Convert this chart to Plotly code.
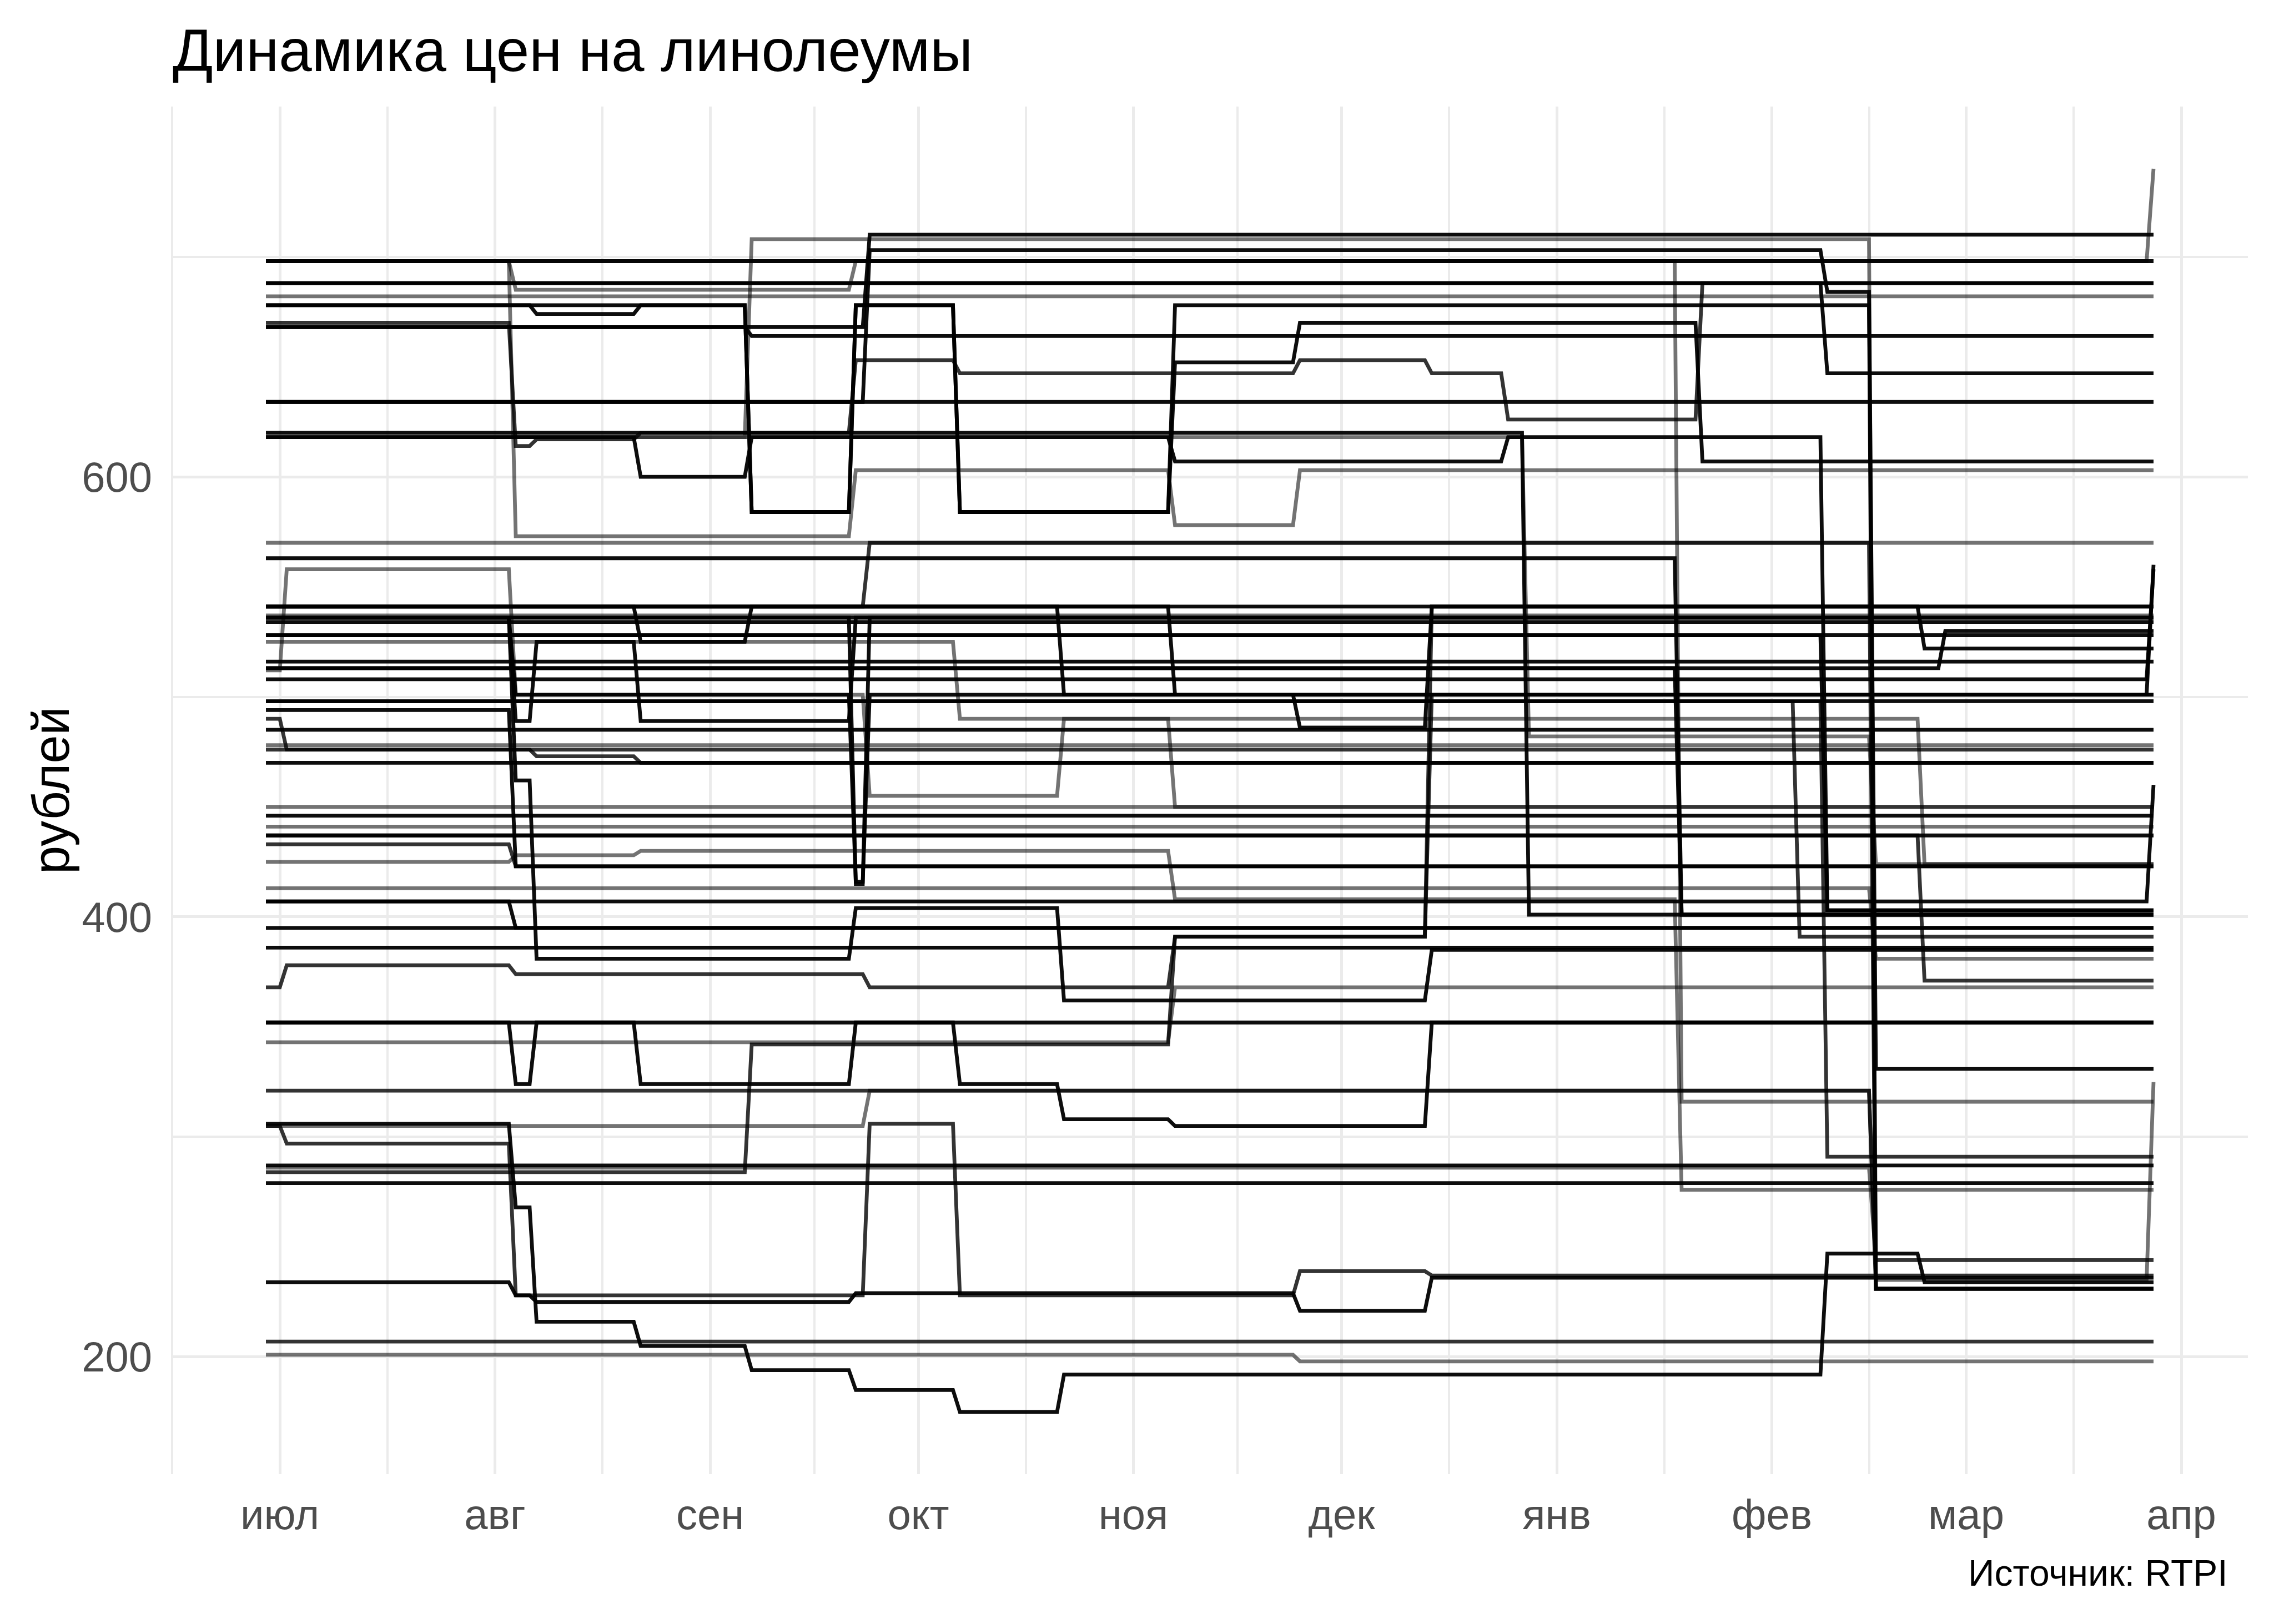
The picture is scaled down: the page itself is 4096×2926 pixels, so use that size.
import pandas as pd
import plotly.graph_objects as go

# ---------------- data ----------------
base_date = "2018-07-01"          # day 0
first_day = -2
last_day = 270

month_ticks = ["2018-07-01", "2018-08-01", "2018-09-01", "2018-10-01", "2018-11-01",
               "2018-12-01", "2019-01-01", "2019-02-01", "2019-03-01", "2019-04-01"]
month_labels = ["июл", "авг", "сен", "окт", "ноя", "дек", "янв", "фев", "мар", "апр"]
y_ticks = [200, 400, 600]
y_minor = [300, 500, 700]

# tone of every series: k = black, d = dark grey, g = grey
tones = ["k", "g", "k", "k", "g", "k", "k", "d", "k", "k",
         "k", "g", "k", "k", "g", "g", "d", "k", "g", "g",
         "k", "k", "k", "g", "k", "k", "k", "k", "k", "g",
         "k", "k", "g", "k", "k", "k", "d", "k", "g", "d",
         "k", "k", "g", "k", "g", "k", "d", "g", "g", "k",
         "k", "k", "k", "d", "k", "k", "g", "d", "k", "g",
         "d", "k", "k", "g", "d", "k", "d", "g", "k", "d",
         "d", "d", "k", "k", "k"]

# price at the first observation
start_prices = [698, 698, 688, 688, 682, 678, 668, 670, 634, 634,
                618, 618, 668, 678, 698, 570, 541, 563, 698, 618,
                541, 541, 541, 537, 536, 534, 536, 528, 528, 525,
                516, 513, 512, 508, 498, 494, 490, 485, 478, 476,
                470, 536, 450, 446, 441, 437, 433, 425, 413, 407,
                407, 395, 386, 368, 352, 352, 343, 321, 306, 305,
                305, 234, 287, 286, 284, 279, 207, 201, 620, 498,
                498, 437, 513, 536, 536]

# price changes: (day of change, new price)
price_changes = [
    [],
    [(33, 685), (82, 698), (269, 740)],
    [],
    [(222, 647)],
    [],
    [(36, 674), (51, 678), (67, 584), (82, 678), (97, 584), (128, 678), (229, 231)],
    [(84, 710)],
    [(33, 614), (36, 617), (51, 620), (82, 653), (97, 647), (146, 653), (165, 647), (176, 626), (204, 688)],
    [(84, 703), (222, 684), (229, 331)],
    [],
    [(51, 600), (67, 618), (128, 607), (176, 618), (222, 403)],
    [(67, 708), (229, 244)],
    [(67, 664)],
    [(67, 584), (82, 678), (97, 584), (128, 652), (146, 670), (204, 607)],
    [(33, 573), (82, 603), (128, 578), (146, 603)],
    [],
    [(84, 570), (229, 231)],
    [(201, 401)],
    [(201, 316)],
    [(179, 482), (229, 424)],
    [],
    [(51, 525), (67, 541), (112, 501), (146, 486), (165, 541), (236, 522)],
    [(128, 501), (269, 560)],
    [],
    [],
    [],
    [(33, 462), (36, 381), (82, 404), (112, 362), (165, 385)],
    [],
    [(222, 403)],
    [(97, 490), (128, 450)],
    [],
    [(201, 401)],
    [(0, 558), (33, 501), (84, 455), (112, 490), (236, 424)],
    [(269, 558)],
    [],
    [(33, 423)],
    [(0, 476)],
    [],
    [],
    [(36, 473), (51, 470)],
    [],
    [(33, 489), (36, 525), (51, 489), (82, 536)],
    [],
    [],
    [],
    [],
    [(33, 423)],
    [(33, 428), (51, 430), (128, 408), (201, 276)],
    [(229, 381)],
    [(269, 460)],
    [(33, 395)],
    [],
    [],
    [(0, 378), (33, 374), (84, 368), (128, 391), (165, 501)],
    [(33, 324), (36, 352), (51, 324), (82, 352), (97, 324), (112, 308), (128, 305), (165, 352)],
    [],
    [(128, 368)],
    [(229, 231)],
    [(33, 268), (36, 216), (51, 205), (67, 194), (82, 185), (97, 175), (112, 192), (222, 247), (236, 234)],
    [(84, 321), (229, 235), (269, 325)],
    [(0, 297), (33, 228), (84, 306), (97, 228), (146, 239), (165, 237)],
    [(33, 228), (36, 225), (82, 229), (146, 221), (165, 236)],
    [],
    [(229, 244)],
    [(67, 342), (128, 391), (165, 541)],
    [],
    [],
    [(146, 198)],
    [(179, 401)],
    [(218, 391)],
    [(222, 291)],
    [(236, 371)],
    [(239, 530)],
    [(82, 415), (84, 536)],
    [(33, 501), (82, 416), (84, 501)],
]

# ---------------- style ----------------
W, H = 4096, 2926
FONT = "Liberation Sans, Arial, sans-serif"
tone_color = {"k": "rgba(0,0,0,0.95)", "d": "rgba(0,0,0,0.8)", "g": "rgba(0,0,0,0.55)"}
LINE_W = 6.8

base = pd.Timestamp(base_date)


def day_to_date(d):
    return base + pd.Timedelta(days=d)


fig = go.Figure()
order = [i for i, t in enumerate(tones) if t == "g"] + \
        [i for i, t in enumerate(tones) if t == "d"] + \
        [i for i, t in enumerate(tones) if t == "k"]
for i in order:
    days = [first_day]
    vals = [start_prices[i]]
    cur = start_prices[i]
    for d, v in price_changes[i]:
        days += [d, d + 1]
        vals += [cur, v]
        cur = v
    days.append(last_day)
    vals.append(cur)
    fig.add_trace(go.Scatter(
        x=[day_to_date(d) for d in days], y=vals, mode="lines",
        line=dict(color=tone_color[tones[i]], width=LINE_W),
        hoverinfo="skip", showlegend=False))

all_vals = [v for i in range(len(start_prices)) for v in [start_prices[i]] + [c[1] for c in price_changes[i]]]
ymin, ymax = min(all_vals), max(all_vals)
span = ymax - ymin
xspan = last_day - first_day

ml, mr, mt, mb = 309, 47, 192, 270

fig.update_layout(
    width=W, height=H,
    margin=dict(l=ml, r=mr, t=mt, b=mb),
    paper_bgcolor="white", plot_bgcolor="white",
    font=dict(family=FONT, color="#4D4D4D"),
    xaxis=dict(
        type="date",
        range=[day_to_date(first_day - 0.05 * xspan), day_to_date(last_day + 0.05 * xspan)],
        tickvals=[pd.Timestamp(t) for t in month_ticks], ticktext=month_labels,
        tickfont=dict(size=76, color="#4D4D4D", family=FONT),
        showgrid=True, gridcolor="#EBEBEB", gridwidth=5.4,
        minor=dict(
            tickvals=[pd.Timestamp(month_ticks[0]) - pd.Timedelta(days=15.5)] +
                     [pd.Timestamp(month_ticks[k]) + (pd.Timestamp(month_ticks[k + 1]) - pd.Timestamp(month_ticks[k])) / 2
                      for k in range(len(month_ticks) - 1)],
            showgrid=True, gridcolor="#EBEBEB", gridwidth=3.9),
        zeroline=False, showline=False, ticks="", ticklabelstandoff=22,
    ),
    yaxis=dict(
        range=[ymin - 0.05 * span, ymax + 0.05 * span],
        tickvals=y_ticks, ticktext=[str(v) for v in y_ticks],
        tickfont=dict(size=76, color="#4D4D4D", family=FONT),
        showgrid=True, gridcolor="#EBEBEB", gridwidth=5.4,
        minor=dict(tickvals=y_minor, showgrid=True, gridcolor="#EBEBEB", gridwidth=3.9),
        zeroline=False, showline=False, ticks="", ticklabelstandoff=34,
    ),
    annotations=[
        dict(text="Динамика цен на линолеумы", xref="paper", yref="paper",
             x=0, y=1 + (mt - 91) / (H - mt - mb), xanchor="left", yanchor="middle",
             showarrow=False, font=dict(size=107, color="black", family=FONT)),
        dict(text="рублей", xref="paper", yref="paper",
             x=(92 - ml) / (W - ml - mr), y=0.5, xanchor="center", yanchor="middle",
             textangle=-90, showarrow=False, font=dict(size=92, color="black", family=FONT)),
        dict(text="Источник: RTPI", xref="paper", yref="paper",
             x=1 + (4015 - (W - mr)) / (W - ml - mr), y=-(2834 - (H - mb)) / (H - mt - mb),
             xanchor="right", yanchor="middle",
             showarrow=False, font=dict(size=66, color="black", family=FONT)),
    ],
)

fig.write_html("out.html")
